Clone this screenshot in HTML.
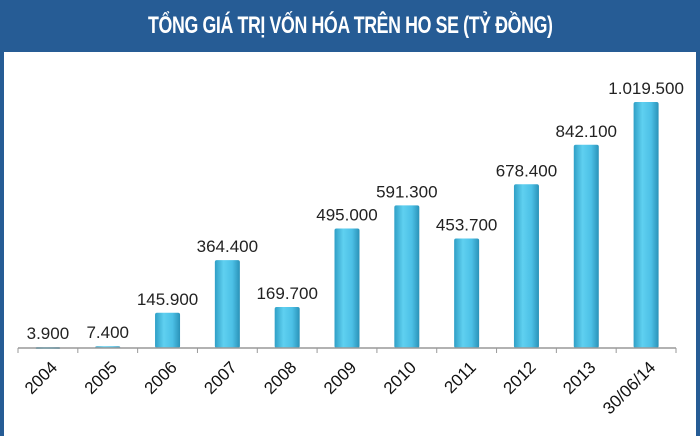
<!DOCTYPE html>
<html><head><meta charset="utf-8"><style>
body{margin:0;background:#fff;}
#wrap{position:relative;width:700px;height:436px;overflow:hidden;background:#fff;}
#hdr{position:absolute;left:0;top:0;width:700px;height:52px;background:#265c95;color:#fff;font-family:"Liberation Sans",sans-serif;font-weight:bold;font-size:24px;text-align:center;line-height:52px;letter-spacing:-0.5px;}
#bl{position:absolute;left:0;top:52px;width:4px;height:384px;background:#265c95;}
#br{position:absolute;right:0;top:52px;width:4px;height:384px;background:#265c95;}
svg{position:absolute;left:0;top:0;}
</style></head><body>
<div id="wrap">
<div id="hdr"><span style="display:inline-block;transform:scaleX(0.74)">TỔNG GIÁ TRỊ VỐN HÓA TRÊN HO SE (TỶ ĐỒNG)</span></div>
<div id="bl"></div>
<div id="br"></div>
<svg id="chart" width="700" height="436">
<defs><linearGradient id="g" x1="0" x2="1" y1="0" y2="0">
<stop offset="0" stop-color="#2f9fc6"/><stop offset="0.35" stop-color="#5fd0f0"/><stop offset="0.7" stop-color="#4cc0e6"/><stop offset="1" stop-color="#2a92b8"/></linearGradient></defs>
</svg>
</div>
<script>
const categories=["2004","2005","2006","2007","2008","2009","2010","2011","2012","2013","30/06/14"];
const values=[3900,7400,145900,364400,169700,495000,591300,453700,678400,842100,1019500];
const valueLabels=["3.900","7.400","145.900","364.400","169.700","495.000","591.300","453.700","678.400","842.100","1.019.500"];
const svg=document.getElementById('chart');
const NS='http://www.w3.org/2000/svg';
const x0=18,x1=676,baseY=348,maxV=1019500,topY=102;
const step=(x1-x0)/categories.length;
function xc(i){return x0+step*(i+0.5);}
function y(v){return baseY-(v/maxV)*(baseY-topY);}
function mk(t,a){const e=document.createElementNS(NS,t);for(const k in a)e.setAttribute(k,a[k]);svg.appendChild(e);return e;}
const bw=25;
values.forEach((v,i)=>{
 const r=mk('rect',{x:xc(i)-bw/2,y:y(v),width:bw,height:Math.max(baseY-y(v),2),fill:'url(#g)',rx:2});
 
 
 const t=mk('text',{x:xc(i),y:y(v)-8,'text-anchor':'middle','font-family':'Liberation Sans, sans-serif','font-size':'17',fill:'#222'});
 t.textContent=valueLabels[i];
 
 
});
const ax=mk('line',{x1:x0,x2:x1,y1:baseY,y2:baseY,stroke:'#999','stroke-width':1.5});


for(let i=0;i<=categories.length;i++){
 const tk=mk('line',{x1:x0+step*i,x2:x0+step*i,y1:baseY,y2:baseY+5,stroke:'#999'});
 
 
}
categories.forEach((c,i)=>{
 const cx=xc(i)+2,cy=baseY+12;
 const t=mk('text',{x:cx,y:cy,'text-anchor':'end','font-family':'Liberation Sans, sans-serif','font-size':'17',fill:'#111',transform:`rotate(-45 ${cx} ${cy})`,dy:'0.7em'});
 t.textContent=c;
 
 
});
</script>
</body></html>
